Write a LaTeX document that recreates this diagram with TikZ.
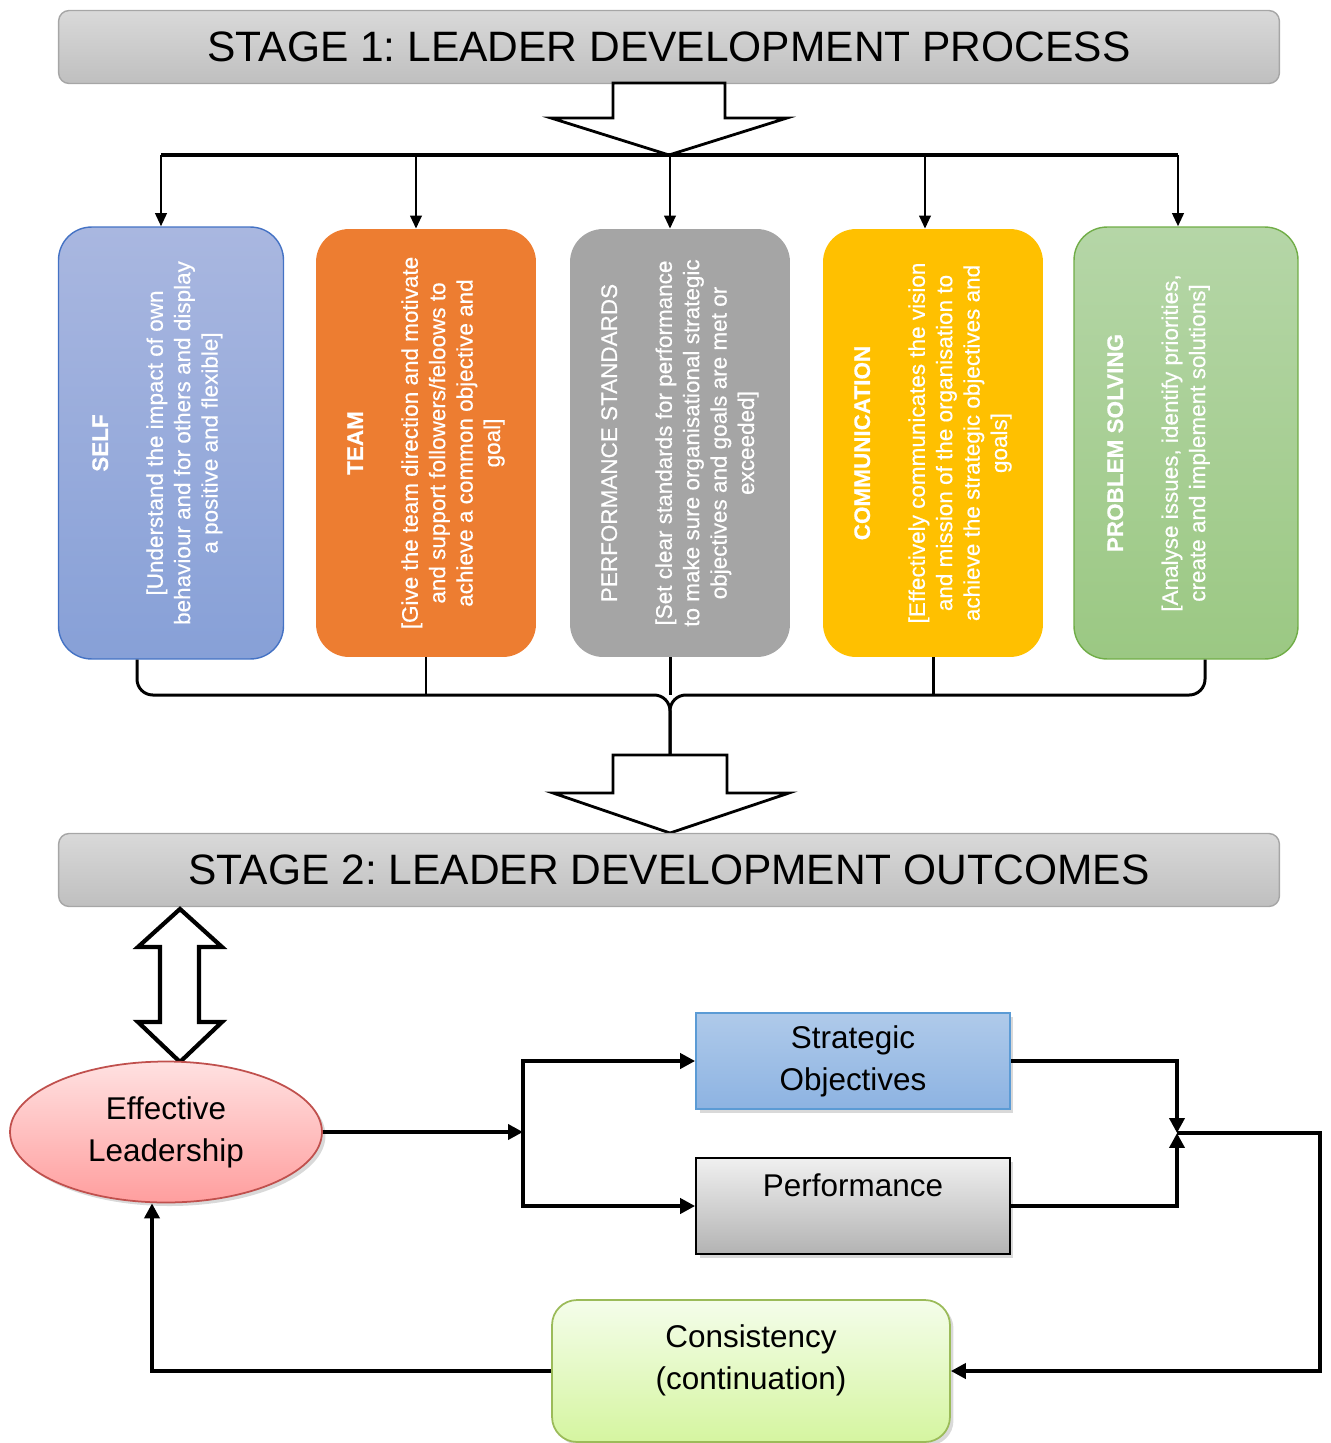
\documentclass[tikz,border=0pt]{standalone}
\usepackage{fontspec}
\setmainfont{Liberation Sans}
\newfontfamily\skillfont[FakeBold=0.4]{Liberation Sans}
\usepackage{graphicx}
\usetikzlibrary{arrows.meta,shapes.geometric,shadows}
\frenchspacing

\definecolor{stagetop}{HTML}{D9D9D9}
\definecolor{stagebot}{HTML}{BFBFBF}
\definecolor{stageline}{HTML}{A6A6A6}
\definecolor{selftop}{HTML}{A9B7E0}
\definecolor{selfbot}{HTML}{87A0D7}
\definecolor{selfline}{HTML}{4472C4}
\definecolor{teamfill}{HTML}{ED7D31}
\definecolor{perffill}{HTML}{A5A5A5}
\definecolor{commfill}{HTML}{FFC000}
\definecolor{probtop}{HTML}{B5D6A7}
\definecolor{probbot}{HTML}{9BC883}
\definecolor{probline}{HTML}{70AD47}
\definecolor{leadtop}{HTML}{FFE1E1}
\definecolor{leadbot}{HTML}{FF9E9E}
\definecolor{leadline}{HTML}{C0504D}
\definecolor{strattop}{HTML}{AFCAEA}
\definecolor{stratbot}{HTML}{8DB3E2}
\definecolor{stratline}{HTML}{5B9BD5}
\definecolor{perftop}{HTML}{F0F0F0}
\definecolor{perfbot}{HTML}{B3B3B3}
\definecolor{constop}{HTML}{F4FDEA}
\definecolor{consbot}{HTML}{D5F5A0}
\definecolor{consline}{HTML}{9BBB59}

\newcommand\vlines[1]{\rotatebox{90}{\begin{tabular}{@{}c@{}}#1\end{tabular}}}

\begin{document}
\begin{tikzpicture}[x=0.02cm,y=-0.02cm]
\tikzstyle{stage}=[draw=stageline,line width=0.8pt,rounded corners=6pt,top color=stagetop,bottom color=stagebot,minimum width=24.42cm,minimum height=1.46cm,font=\fontsize{24.2}{29}\selectfont]
\tikzstyle{skill}=[rounded corners=0.66cm,inner sep=0pt,text=white,font=\skillfont\fontsize{12.8}{15.6}\selectfont]
\tikzstyle{bus}=[line width=2.2pt]
\tikzstyle{feed}=[line width=1.5pt,-{Triangle[length=7.5pt,width=6.5pt]}]
\tikzstyle{brace}=[line width=1.7pt]
\tikzstyle{block}=[line width=1.6pt,fill=white]
\tikzstyle{flow}=[line width=2.8pt,-{Triangle[length=8.5pt,width=8.5pt]}]
\tikzstyle{outcome}=[align=center,inner sep=0pt,font=\fontsize{17.9}{23.9}\selectfont,drop shadow={opacity=0.3,shadow xshift=2pt,shadow yshift=-2pt}]

\useasboundingbox (0,0) rectangle (1330,1443);

\node[stage] (stageA) at (669,47) {STAGE 1: LEADER DEVELOPMENT PROCESS};
\draw[block] (613,83) -- (725,83) -- (725,118) -- (787,118) -- (669,155) -- (551,118) -- (613,118) -- cycle;

\node[skill,draw=selfline,line width=0.8pt,top color=selftop,bottom color=selfbot,minimum width=4.5cm,minimum height=8.64cm] (self) at (171,443)
  {\vlines{\textbf{SELF}\\ ~\\ {[}Understand the impact of own\\ behaviour and for others and display\\ a positive and flexible]\\ ~}};
\node[skill,fill=teamfill,minimum width=4.4cm,minimum height=8.56cm] (team) at (426,443)
  {\vlines{\textbf{TEAM}\\ ~\\ {[}Give the team direction and motivate\\ and support followers/feloows to\\ achieve a common objective and\\ goal]}};
\node[skill,fill=perffill,minimum width=4.4cm,minimum height=8.56cm] (perf) at (680,443)
  {\vlines{PERFORMANCE STANDARDS\\ ~\\ {[}Set clear standards for performance\\ to make sure organisational strategic\\ objectives and goals are met or\\ exceeded]}};
\node[skill,fill=commfill,minimum width=4.4cm,minimum height=8.56cm] (comm) at (933,443)
  {\vlines{\textbf{COMMUNICATION}\\ ~\\ {[}Effectively communicates the vision\\ and mission of the organisation to\\ achieve the strategic objectives and\\ goals]}};
\node[skill,draw=probline,line width=0.8pt,top color=probtop,bottom color=probbot,minimum width=4.48cm,minimum height=8.64cm] (prob) at (1186,443)
  {\vlines{\textbf{PROBLEM SOLVING}\\ ~\\ {[}Analyse issues, identify priorities,\\ create and implement solutions]\\ ~\\ ~}};

\coordinate (b1) at (161,155);
\coordinate (b2) at (416,155);
\coordinate (b3) at (670,155);
\coordinate (b4) at (925,155);
\coordinate (b5) at (1178,155);
\draw[bus] (b1) -- (b5);
\foreach \b/\n in {b1/self,b2/team,b3/perf,b4/comm,b5/prob}
  \draw[feed] (\b) -- (\b |- \n.north);

\coordinate (knot) at (670,695);
\coordinate (stem) at (670,755);
\draw[brace,rounded corners=9pt] ([xshift=-0.68cm]self.south) |- (knot) -- (stem);
\draw[brace,rounded corners=9pt] ([xshift=0.38cm]prob.south) |- (knot) -- (stem);
\draw[brace] (team.south) -- (team.south |- knot);
\draw[brace] (knot |- perf.south) -- (knot);
\draw[brace] (comm.south) -- (comm.south |- knot);

\draw[block] (613,755) -- (727,755) -- (727,793) -- (789,793) -- (670,833) -- (553,793) -- (613,793) -- cycle;
\node[stage] (stageB) at (669,870) {STAGE 2: LEADER DEVELOPMENT OUTCOMES};

\draw[block,line width=2.4pt] (180,909) -- (222,947) -- (199,947) -- (199,1022) -- (222,1022) -- (180,1062) -- (138,1022) -- (160,1022) -- (160,947) -- (138,947) -- cycle;

\node[outcome,ellipse,draw=leadline,line width=1pt,top color=leadtop,bottom color=leadbot,minimum width=6.24cm,minimum height=2.82cm] (lead) at (166,1132) {Effective\\Leadership};
\node[outcome,draw=stratline,line width=1pt,top color=strattop,bottom color=stratbot,minimum width=6.28cm,minimum height=1.92cm] (strat) at (853,1061) {Strategic\\Objectives};
\node[outcome,draw=black,line width=1pt,top color=perftop,bottom color=perfbot,minimum width=6.28cm,minimum height=1.92cm] (perform) at (853,1206) {Performance\\ ~};
\node[outcome,draw=consline,line width=1pt,rounded corners=0.5cm,top color=constop,bottom color=consbot,minimum width=7.96cm,minimum height=2.84cm] (cons) at (751,1371) {Consistency\\(continuation)\\[-8pt]~};

\coordinate (split) at (523,1132);
\coordinate (join) at (1177,1133);
\coordinate (loop) at (1320,1133);
\draw[flow] (lead.east) -- (split);
\draw[flow] (split) |- (strat.west);
\draw[flow] (split) |- (perform.west);
\draw[flow] (strat.east) -| (join);
\draw[flow] (perform.east) -| (join);
\draw[flow] (join) -- (loop) |- (cons.east);
\draw[flow] (cons.west) -| ([xshift=-0.28cm]lead.south);
\end{tikzpicture}
\end{document}
